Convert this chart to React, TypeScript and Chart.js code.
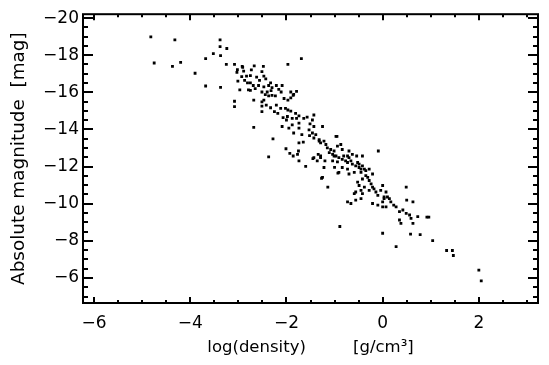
import { useEffect, useRef } from 'react';
import { Chart, registerables } from 'chart.js';

Chart.register(...registerables);

// log(density) [g/cm^3], paired by index with absMagnitude
const logDensity: number[] = [
  -4.82, -4.32, -3.38, -3.38, -3.24, -3.52, -3.37, -3.68, -4.75, -4.20,
  -4.37, -3.25, -3.08, -2.91, -3.90, -3.02, -3.03, -2.93, -2.83, -2.87,
  -2.81, -3.01, -3.68, -3.37, -2.97, -2.79, -1.97, -1.69,
  -2.92, -2.67, -2.48, -2.89, -2.73, -2.51, -2.75, -2.62, -2.47, -2.75,
  -2.56, -2.43, -2.33, -2.69, -2.58, -2.47, -2.37, -2.30, -2.21, -2.09,
  -2.75, -2.65, -2.51, -2.40, -2.32, -2.16, -2.11, -2.44, -2.37, -2.30,
  -2.23, -1.91, -1.85, -1.79, -2.68, -2.47, -2.51, -3.08, -3.08, -2.05,
  -1.97, -1.91, -1.86, -2.51, -2.42, -2.33, -2.21, -2.12, -2.51, -2.25,
  -2.18, -2.02, -1.97, -1.91, -1.81, -2.07, -2.00, -1.79, -1.74, -2.68,
  -2.09, -1.95, -1.88, -1.74,
  -2.28, -2.37, -2.01, -1.93, -1.86, -1.74, -1.74, -1.75, -1.60, -1.45,
  -1.65, -1.68, -1.85, -1.52, -1.43, -1.32, -1.34, -1.29, -1.20, -1.27,
  -1.14, -0.95, -1.00, -0.93, -0.89, -1.01, -1.04, -0.94,
  -1.98, -1.88, -1.74, -1.64, -1.57, -1.43, -1.25, -0.97, -1.46, -1.51,
  -1.43, -1.53, -1.46, -1.39, -1.32, -1.29, -1.22, -1.18, -1.15, -1.08,
  -1.11, -1.04, -1.01, -0.94, -0.87, -0.84, -0.97, -0.91, -0.84, -0.77,
  -0.73, -0.70, -0.70, -0.63, -0.56, -0.49, -0.45, -0.35, -0.28, -0.35,
  -0.42, -0.28, -0.59, -0.70, -0.91, -0.84, -1.22, -1.25, -1.77, -1.36,
  -1.43, -1.29, -0.63, -0.42, -0.09,
  -0.81, -0.73, -0.54, -0.66, -0.52, -0.49, -0.42, -0.38, -0.73, -0.45,
  -0.21, -0.31, -0.24, -0.21, -0.18, -0.52, -0.49, -0.45, -0.42, -0.56,
  -0.59, -0.73, -0.38, -0.28, -0.14, -0.10, -0.04, 0.00, 0.07, -0.21,
  -0.10, 0.00, 0.03, 0.14, 0.17, 0.23, 0.28, -0.66, -0.56, -0.45,
  0.49, 0.50, 0.63, 0.35, 0.42, 0.49, 0.56, 0.59, 0.35, 0.38,
  0.63, 0.73,
  0.03, 0.10, 0.00, 0.07, 0.92, 0.96, 0.00, 0.58, 0.78, 0.28,
  1.04, 1.33, 1.45, 1.47, 2.00, 2.05,
];

// Absolute magnitude [mag]
const absMagnitude: number[] = [
  -18.99, -18.83, -18.83, -18.46, -18.36, -18.09, -17.98, -17.82, -17.58, -17.61,
  -17.40, -17.51, -17.51, -17.35, -17.03, -17.22, -17.08, -16.85, -16.87, -16.64,
  -16.51, -16.60, -16.34, -16.27, -16.13, -16.13, -17.51, -17.82,
  -17.40, -17.43, -17.40, -17.14, -17.21, -17.12, -16.90, -16.82, -16.87, -16.51,
  -16.64, -16.73, -16.51, -16.37, -16.37, -16.29, -16.37, -16.25, -16.37, -16.37,
  -16.11, -16.20, -16.02, -16.02, -16.09, -16.16, -16.02, -15.88, -15.81, -15.84,
  -15.81, -16.02, -15.89, -16.05, -15.58, -15.58, -15.49, -15.52, -15.23, -15.67,
  -15.58, -15.70, -15.84, -15.26, -15.31, -15.17, -15.31, -15.14, -14.96, -14.96,
  -14.87, -15.14, -15.05, -14.99, -14.87, -14.64, -14.51, -14.60, -14.34, -14.11,
  -14.16, -14.07, -14.25, -14.07,
  -13.49, -12.52, -12.96, -12.71, -12.57, -13.28, -12.31, -12.84, -12.01, -12.43,
  -13.32, -13.72, -13.81, -13.67, -13.54, -13.37, -12.66, -12.48, -12.31, -11.37,
  -10.89, -13.63, -11.96, -11.65, -8.77, -12.57, -12.31, -12.25,
  -14.70, -14.60, -14.73, -14.60, -14.66, -14.78, -14.16, -13.63, -14.51, -14.30,
  -14.16, -13.98, -13.81, -13.72, -13.45, -13.28, -13.37, -13.19, -13.01, -12.92,
  -12.75, -12.66, -12.84, -13.10, -13.19, -12.92, -12.57, -12.48, -12.39, -12.31,
  -12.22, -12.84, -12.48, -12.13, -12.04, -12.13, -11.86, -11.78, -11.86, -11.51,
  -11.33, -11.25, -11.69, -11.60, -11.69, -11.95, -11.95, -11.42, -12.66, -12.31,
  -12.48, -12.57, -12.66, -12.57, -12.84,
  -12.57, -12.57, -12.57, -12.31, -12.22, -11.95, -12.04, -11.86, -11.86, -11.69,
  -11.60, -11.42, -11.07, -10.89, -10.80, -11.16, -10.98, -10.72, -10.54, -10.63,
  -10.54, -10.10, -10.89, -10.72, -10.63, -10.45, -10.72, -10.98, -10.63, -10.01,
  -9.92, -10.10, -10.27, -10.27, -10.10, -9.92, -9.83, -10.01, -10.19, -10.27,
  -10.89, -10.19, -10.10, -9.57, -9.66, -9.48, -9.39, -9.21, -9.12, -8.94,
  -8.94, -9.30,
  -10.36, -10.36, -9.83, -9.83, -9.28, -9.28, -8.41, -8.36, -8.33, -7.69,
  -8.01, -7.48, -7.48, -7.21, -6.42, -5.84,
];

const xTickValues = [-6, -4, -2, 0, 2];
const yTickValues = [-20, -18, -16, -14, -12, -10, -8, -6];
const xRange = { min: -6.23, max: 3.23 };
const yRange = { min: -20.21, max: -4.65 };
const xTitle = 'log(density)         [g/cm\u00B3]';
const yTitle = 'Absolute magnitude  [mag]';

const FONT = 'DejaVu Sans';
const fmt = (v: number) => (v < 0 ? '\u2212' + Math.abs(v) : String(v));

const framePlugin = {
  id: 'idlFrame',
  afterDatasetsDraw(chart: any) {
    const { ctx, chartArea, scales } = chart;
    const { left, right, top, bottom } = chartArea;
    const xs = scales.x;
    const ys = scales.y;
    ctx.save();
    ctx.strokeStyle = '#000';
    ctx.lineWidth = 2;
    ctx.strokeRect(left, top, right - left, bottom - top);
    ctx.beginPath();
    for (let i = Math.ceil(xs.min * 2); i <= Math.floor(xs.max * 2); i++) {
      const v = i / 2;
      const p = Math.round(xs.getPixelForValue(v));
      const len = i % 4 === 0 ? 6 : 3;
      ctx.moveTo(p, bottom);
      ctx.lineTo(p, bottom - len);
      ctx.moveTo(p, top);
      ctx.lineTo(p, top + len);
    }
    for (let i = Math.ceil(ys.min * 2); i <= Math.floor(ys.max * 2); i++) {
      const v = i / 2;
      const p = Math.round(ys.getPixelForValue(v));
      const len = i % 4 === 0 ? 10 : 5;
      ctx.moveTo(left, p);
      ctx.lineTo(left + len, p);
      ctx.moveTo(right, p);
      ctx.lineTo(right - len, p);
    }
    ctx.stroke();
    ctx.restore();
  },
};

export default function App() {
  const canvasRef = useRef<HTMLCanvasElement | null>(null);

  useEffect(() => {
    if (!canvasRef.current) return;
    const points = logDensity.map((x, i) => ({ x, y: absMagnitude[i] }));
    const chart = new Chart(canvasRef.current, {
      type: 'scatter',
      data: {
        datasets: [
          {
            data: points,
            pointStyle: 'rect',
            pointRadius: 2,
            pointHoverRadius: 2,
            backgroundColor: '#000',
            borderColor: '#000',
            borderWidth: 0,
          },
        ],
      },
      options: {
        animation: false,
        responsive: false,
        devicePixelRatio: 1,
        events: [],
        layout: { padding: { top: 9, right: 11, left: 0, bottom: 0 } },
        plugins: {
          legend: { display: false },
          tooltip: { enabled: false },
        },
        scales: {
          x: {
            type: 'linear',
            min: xRange.min,
            max: xRange.max,
            grid: { display: false, drawTicks: false },
            border: { display: false },
            afterBuildTicks: (s: any) => {
              s.ticks = xTickValues.map((value) => ({ value }));
            },
            afterFit: (s: any) => {
              s.height = 62;
            },
            ticks: {
              color: '#000',
              padding: 10,
              maxRotation: 0,
              font: { family: FONT, size: 17 },
              callback: (v: any) => fmt(Number(v)),
            },
            title: {
              display: true,
              text: xTitle,
              color: '#000',
              font: { family: FONT, size: 16.5 },
              padding: { top: 0, bottom: 7 },
            },
          },
          y: {
            type: 'linear',
            reverse: true,
            min: yRange.min,
            max: yRange.max,
            grid: { display: false, drawTicks: false },
            border: { display: false },
            afterBuildTicks: (s: any) => {
              s.ticks = yTickValues.map((value) => ({ value }));
            },
            afterFit: (s: any) => {
              s.width = 83;
            },
            ticks: {
              color: '#000',
              padding: 4,
              font: { family: FONT, size: 17 },
              callback: (v: any) => fmt(Number(v)),
            },
            title: {
              display: true,
              text: yTitle,
              color: '#000',
              font: { family: FONT, size: 18.4 },
              padding: { top: 8, bottom: 0 },
            },
          },
        },
      },
      plugins: [framePlugin],
    });
    return () => chart.destroy();
  }, []);

  return (
    <div style={{ position: 'fixed', left: 0, top: 0, width: 549, height: 365, background: '#fff' }}>
      <canvas ref={canvasRef} width={549} height={365} />
    </div>
  );
}
